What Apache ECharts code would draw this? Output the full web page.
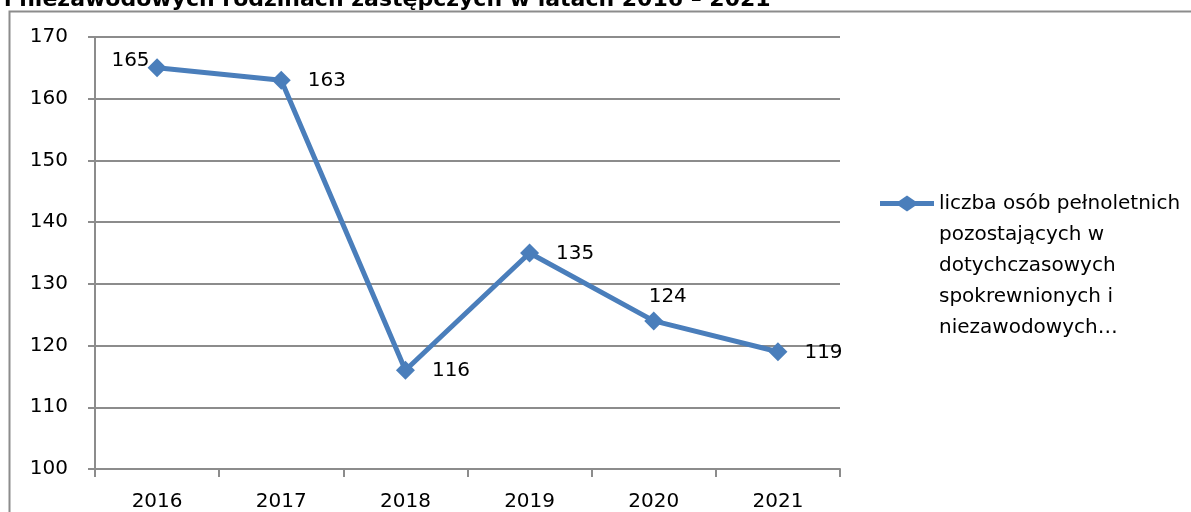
<!DOCTYPE html>
<html>
<head>
<meta charset="utf-8">
<script src="https://cdn.jsdelivr.net/npm/echarts@6/dist/echarts.min.js"></script>
<style>
  html, body { margin: 0; padding: 0; background: #fff; }
  #chart { width: 1191px; height: 512px; }
</style>
</head>
<body>
<div id="chart"></div>
<script>
// Years on the category axis
const years = ['2016', '2017', '2018', '2019', '2020', '2021'];
// Number of adults staying in kinship / non-professional foster families
const adults = [165, 163, 116, 135, 124, 119];
// Series name shown in the legend (wrapped over five lines)
const seriesName = 'liczba osób pełnoletnich\npozostających w\ndotychczasowych\nspokrewnionych i\nniezawodowych…';
// Title line
const titleText = 'i niezawodowych rodzinach zastępczych w latach 2016 – 2021';
// Label placement per point
const labelPos = ['left', 'right', 'right', 'right', 'top', 'right'];

const FONT = '"DejaVu Sans", "Liberation Sans", sans-serif';
const BLUE = '#4a7ebb';
const GRAY = '#8c8c8c';
const LEGEND_LINE_H = 31;
const LEGEND_LINES = 5;

const chart = echarts.init(document.getElementById('chart'), null, { renderer: 'canvas' });

const seriesData = adults.map((v, i) => {
  const pos = labelPos[i];
  let label;
  if (pos === 'left') label = { position: 'left', distance: 0, offset: [2, -7] };
  else if (pos === 'top') label = { position: 'top', distance: 5, offset: [14, 0] };
  else label = { position: 'right', distance: 17, offset: [0, 1] };
  return { value: v, label };
});

// Legend icon: a thick line with a diamond, sitting on the first text line.
// Two tiny specks stretch the path's box to the full height of the text block.
const iconH = LEGEND_LINE_H * LEGEND_LINES;
const c = LEGEND_LINE_H / 2;
const legendIcon = 'path://' +
  'M0,0 L0.01,0 L0,0.01 Z ' +
  `M0,${c - 2.5} L19,${c - 2.5} L27,${c - 8} L35,${c - 2.5} L54,${c - 2.5} ` +
  `L54,${c + 2.5} L35,${c + 2.5} L27,${c + 8} L19,${c + 2.5} L0,${c + 2.5} Z ` +
  `M0,${iconH} L0.01,${iconH} L0,${iconH - 0.01} Z`;

chart.setOption({
  animation: false,
  backgroundColor: '#fff',
  graphic: [
    {
      type: 'rect',
      shape: { x: 9.5, y: 11.5, width: 1300, height: 600 },
      style: { fill: null, stroke: GRAY, lineWidth: 2 },
      silent: true,
      z: -1
    },
    {
      type: 'text',
      left: 4,
      top: -11,
      style: {
        text: titleText,
        fontFamily: FONT,
        fontWeight: 'bold',
        fontSize: 22,
        fill: '#000'
      }
    }
  ],
  grid: { left: 95, right: 351, top: 37, bottom: 43, containLabel: false },
  legend: {
    data: [seriesName],
    orient: 'vertical',
    left: 875,
    top: 183,
    itemWidth: 54,
    itemHeight: iconH,
    itemGap: 0,
    icon: legendIcon,
    textStyle: {
      fontFamily: FONT,
      fontSize: 20,
      color: '#000',
      lineHeight: LEGEND_LINE_H
    }
  },
  xAxis: {
    type: 'category',
    data: years,
    boundaryGap: true,
    axisLine: { lineStyle: { color: GRAY, width: 2 } },
    axisTick: { show: true, length: 8, alignWithLabel: false, lineStyle: { color: GRAY, width: 2 } },
    axisLabel: { margin: 23, fontFamily: FONT, fontSize: 20, color: '#000' },
    splitLine: { show: false }
  },
  yAxis: {
    type: 'value',
    min: 100,
    max: 170,
    interval: 10,
    axisLine: { show: true, lineStyle: { color: GRAY, width: 2 } },
    axisTick: { show: true, length: 7, lineStyle: { color: GRAY, width: 2 } },
    axisLabel: { margin: 27, fontFamily: FONT, fontSize: 20, color: '#000' },
    splitLine: { show: true, lineStyle: { color: GRAY, width: 2 } }
  },
  series: [{
    name: seriesName,
    type: 'line',
    data: seriesData,
    symbol: 'diamond',
    symbolSize: 19,
    itemStyle: { color: BLUE },
    lineStyle: { color: BLUE, width: 5 },
    label: {
      show: true,
      fontFamily: FONT,
      fontSize: 20,
      color: '#000'
    }
  }]
});
</script>
</body>
</html>
